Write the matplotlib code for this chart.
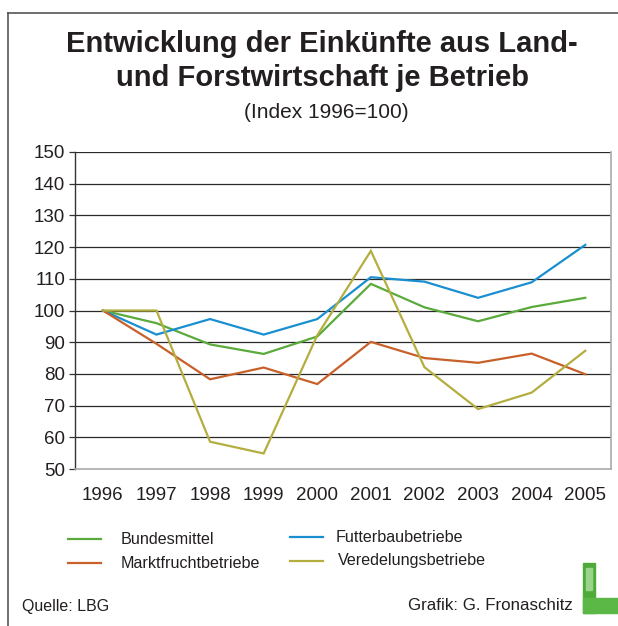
import matplotlib
matplotlib.use("Agg")
import matplotlib.pyplot as plt
from matplotlib.lines import Line2D
from matplotlib.patches import Rectangle

plt.rcParams['font.family'] = ['Liberation Sans', 'DejaVu Sans']

years = [1996, 1997, 1998, 1999, 2000, 2001, 2002, 2003, 2004, 2005]
bundesmittel = [100, 96.0, 89.3, 86.3, 91.8, 108.4, 101.0, 96.6, 101.1, 104.0]
futterbau = [100, 92.4, 97.3, 92.4, 97.3, 110.5, 109.1, 104.0, 108.9, 120.7]
marktfrucht = [100, 89.5, 78.3, 82.0, 76.8, 90.1, 85.0, 83.5, 86.4, 79.9]
veredelung = [100, 100, 58.6, 54.9, 92.2, 118.8, 82.1, 68.9, 74.1, 87.3]

series = [
    ("Bundesmittel", bundesmittel, "#5aaa3c"),
    ("Futterbaubetriebe", futterbau, "#1a8fd0"),
    ("Marktfruchtbetriebe", marktfrucht, "#c8602a"),
    ("Veredelungsbetriebe", veredelung, "#b3ae3f"),
]
y_ticks = list(range(50, 151, 10))

fig = plt.figure(figsize=(6.18, 6.26), dpi=100)
W, H = 618, 626

def fx(px):
    return px / W

def fy(py):
    return 1 - py / H

# outer frame (top and left edges)
fig.add_artist(Line2D([fx(8), 1.0], [fy(12.5), fy(12.5)], color="#555555", lw=1.2))
fig.add_artist(Line2D([fx(8), fx(8)], [fy(12.5), 0.0], color="#555555", lw=1.2))

# titles
fig.text(fx(322), fy(44), "Entwicklung der Einkünfte aus Land-", ha="center", va="center",
         fontsize=21, fontweight="bold", color="#231f20")
fig.text(fx(322), fy(78), "und Forstwirtschaft je Betrieb", ha="center", va="center",
         fontsize=21, fontweight="bold", color="#231f20")
fig.text(fx(326), fy(112), "(Index 1996=100)", ha="center", va="center",
         fontsize=15, color="#231f20")

ax = fig.add_axes([fx(75), fy(469), fx(611) - fx(75), fy(152) - fy(469)])
for name, vals, col in series:
    ax.plot(years, vals, color=col, lw=1.6, solid_joinstyle="miter")

ax.set_xlim(1995.48, 2005.48)
ax.set_ylim(50, 150)
ax.set_yticks(y_ticks)
ax.set_xticks(years)
ax.set_xticklabels([str(y) for y in years])
for y in y_ticks[1:]:
    ax.axhline(y, color="#2a2a2a", lw=0.9, zorder=0)
ax.spines["top"].set_visible(False)
ax.spines["right"].set_color("#aaaaaa")
ax.spines["right"].set_linewidth(1.2)
ax.spines["bottom"].set_color("#aaaaaa")
ax.spines["bottom"].set_linewidth(1.2)
ax.spines["left"].set_color("#333333")
ax.spines["left"].set_linewidth(1.0)
ax.tick_params(axis="y", length=4, width=0.9, color="#333333", labelsize=13.5,
               labelcolor="#231f20", pad=3)
ax.tick_params(axis="x", length=0, labelsize=13.5, labelcolor="#231f20", pad=13)

# legend
legend_items = [
    ("Bundesmittel", "#5aaa3c", 68, 121, 539),
    ("Marktfruchtbetriebe", "#c8602a", 68, 121, 563),
    ("Futterbaubetriebe", "#1a8fd0", 290, 336, 537),
    ("Veredelungsbetriebe", "#b3ae3f", 290, 338, 561),
]
for label, col, lx, tx, ly in legend_items:
    fig.add_artist(Line2D([fx(lx), fx(lx + 33)], [fy(ly), fy(ly)], color=col, lw=1.6))
    fig.text(fx(tx), fy(ly), label, ha="left", va="center", fontsize=11.6, color="#231f20")

fig.text(fx(22), fy(606), "Quelle: LBG", ha="left", va="center", fontsize=11.5, color="#231f20")
fig.text(fx(573), fy(606), "Grafik: G. Fronaschitz", ha="right", va="center",
         fontsize=12.2, color="#231f20")

# small green L emblem
emblem = [
    Rectangle((fx(583), fy(613)), fx(12), fy(563) - fy(613), color="#4faa3a"),
    Rectangle((fx(583), fy(613)), fx(35), fy(598) - fy(613), color="#5cb846"),
    Rectangle((fx(586), fy(590)), fx(6), fy(568) - fy(590), color="#9ad48a"),
]
for p in emblem:
    fig.add_artist(p)

fig.savefig("out.png", dpi=100)
